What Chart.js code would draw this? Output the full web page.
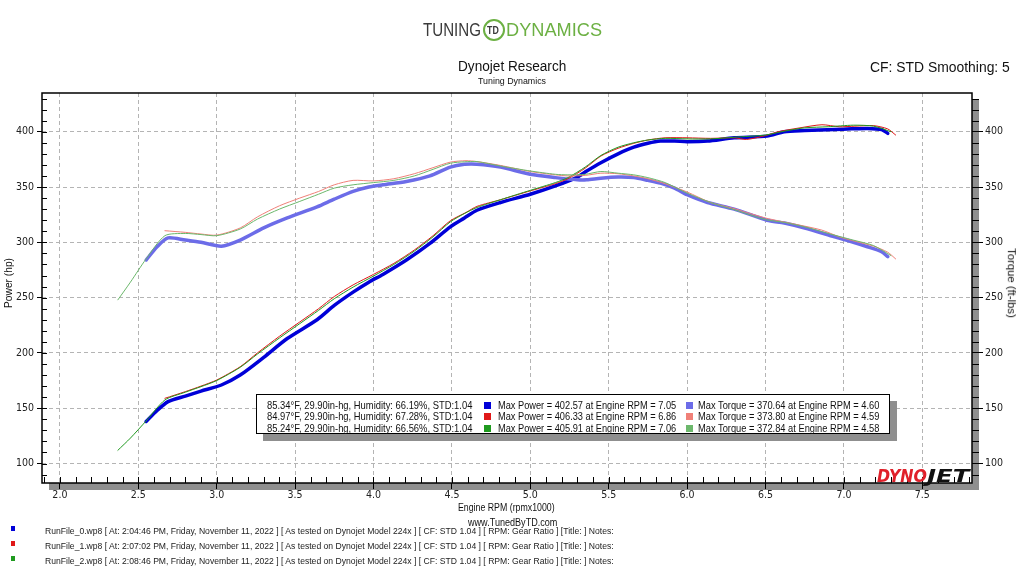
<!DOCTYPE html>
<html>
<head>
<meta charset="utf-8">
<script src="https://cdn.jsdelivr.net/npm/chart.js@4"></script>
<style>
  html, body { margin: 0; padding: 0; background: #fff; }
  #wrap { position: relative; width: 1024px; height: 576px; overflow: hidden; font-family: "Liberation Sans", Arial, sans-serif; }
  #wrap canvas { position: absolute; left: 0; top: 0; }
  .t { position: absolute; white-space: nowrap; line-height: 1; color: #111; z-index: 3; }
  .sq { position: absolute; width: 7px; height: 7px; z-index: 3; }
  #legendBox { position: absolute; left: 256px; top: 394px; width: 634px; height: 40px; box-sizing: border-box;
    border: 1.5px solid #000; background: #fff; box-shadow: 7px 7px 0 #8f8f8f; z-index: 2; }
  #tdRing { position: absolute; left: 483px; top: 19px; width: 18px; height: 18px; border: 2px solid #6cb043;
    border-radius: 50%; z-index: 3; }
</style>
</head>
<body>
<div id="wrap">
  <canvas id="dyno" width="1024" height="576"></canvas>
  <div id="legendBox"></div>
  <div id="tdRing"></div>
</div>
<script>
// run 0 (blue), run 1 (red), run 2 (green) - engine rpm x1000
const run0Rpm    = [2.55, 2.62, 2.69, 2.8, 2.9, 3.03, 3.15, 3.3, 3.45, 3.64, 3.75, 3.87, 3.97, 4.06, 4.21, 4.36, 4.49, 4.58, 4.66, 4.81, 5.0, 5.16, 5.3, 5.36, 5.45, 5.56, 5.66, 5.75, 5.83, 5.92, 6.0, 6.13, 6.3, 6.51, 6.62, 6.75, 6.94, 7.05, 7.15, 7.24, 7.28];
const run0Power  = [138, 148, 156, 161, 165.5, 171, 180, 196, 213, 230, 243, 255, 264, 271, 284, 299, 314, 322, 329, 336, 343.5, 351, 359, 364.5, 372, 380, 386, 389.5, 391.5, 391.5, 391, 391.5, 394.5, 396, 400, 401, 402, 402.6, 403, 402, 398.5];
const run0Torque = [284, 296, 304, 302, 300, 296.5, 302, 313, 322, 332, 339, 346, 350, 352, 355, 360, 368, 370.5, 370.6, 368, 361.5, 358.5, 356.5, 356.5, 358, 359, 358.5, 356, 353.5, 349, 343, 336, 330, 320, 317.5, 313, 305, 300.5, 296, 291.5, 287];

const run1Rpm    = [2.67, 2.8, 2.9, 3.0, 3.15, 3.26, 3.4, 3.53, 3.65, 3.75, 3.87, 4.0, 4.13, 4.26, 4.38, 4.49, 4.59, 4.66, 4.81, 5.0, 5.16, 5.24, 5.35, 5.45, 5.56, 5.66, 5.75, 5.86, 6.0, 6.15, 6.3, 6.38, 6.5, 6.58, 6.72, 6.86, 6.97, 7.07, 7.19, 7.28, 7.33];
const run1Power  = [159, 165, 170, 175.5, 187.5, 200, 215, 228, 240, 251, 261.5, 271, 281, 293, 306, 319.5, 327, 332.5, 338.5, 346.5, 353, 357.5, 367, 378, 385, 389.5, 392.5, 394.5, 394.5, 394, 394.5, 393, 396.5, 400, 403.5, 406.3, 404.5, 405, 405.5, 402.5, 397];
const run1Torque = [310.5, 309, 307.5, 306.5, 313, 323, 333, 340, 346, 352, 356, 355.5, 357.5, 362, 367.5, 372.5, 373.8, 373, 369.5, 364, 361, 360, 360.5, 362.5, 362, 360, 357.5, 353, 345.5, 336, 330.5, 327, 322, 319.5, 315.5, 311, 305, 301, 296.5, 291, 285];

const run2Rpm    = [2.37, 2.45, 2.55, 2.67, 2.8, 2.9, 3.0, 3.15, 3.26, 3.4, 3.53, 3.65, 3.75, 3.87, 4.0, 4.13, 4.26, 4.38, 4.49, 4.58, 4.66, 4.81, 5.0, 5.16, 5.24, 5.35, 5.45, 5.56, 5.66, 5.75, 5.86, 6.0, 6.15, 6.3, 6.5, 6.62, 6.75, 6.9, 7.06, 7.19, 7.3];
const run2Power  = [112, 123, 138.5, 157.5, 164.5, 169.5, 175, 187, 199, 213.5, 226.5, 238.5, 249, 259.5, 269.5, 280, 292, 305, 318.5, 326, 331.5, 338.5, 347, 354, 358.5, 368, 378.5, 386, 390, 392.5, 394, 393.5, 393.5, 395, 397, 400.5, 403.5, 404.5, 405.9, 405, 400];
const run2Torque = [248, 264, 285, 306, 308, 307, 306, 312, 321, 330, 337, 343.5, 349, 352, 354, 356, 360, 366, 371.5, 372.8, 373, 369, 364.5, 361.5, 361, 361.5, 364, 362.5, 361, 358.5, 354, 344.5, 336, 329.5, 320.5, 318, 314, 308, 302, 297, 288];

// legend / footer info
const runConditions = ['85.34°F, 29.90in-hg, Humidity: 66.19%, STD:1.04',
                       '84.97°F, 29.90in-hg, Humidity: 67.28%, STD:1.04',
                       '85.24°F, 29.90in-hg, Humidity: 66.56%, STD:1.04'];
const maxPower     = ['402.57', '406.33', '405.91'];
const maxPowerRpm  = ['7.05', '6.86', '7.06'];
const maxTorque    = ['370.64', '373.80', '372.84'];
const maxTorqueRpm = ['4.60', '4.59', '4.58'];
const runFiles = ['RunFile_0.wp8', 'RunFile_1.wp8', 'RunFile_2.wp8'];
const runTimes = ['2:04:46 PM', '2:07:02 PM', '2:08:46 PM'];

const powerColors  = ['#0000d8', '#e01818', '#1f9a1f'];
const torqueColors = ['#6c6ce8', '#f08078', '#6cb86c'];

const wrap = document.getElementById('wrap');

function addText(str, o) {
  const el = document.createElement('div');
  el.className = 't';
  el.textContent = str;
  el.style.fontSize = o.size + 'px';
  if (o.color) el.style.color = o.color;
  if (o.weight) el.style.fontWeight = o.weight;
  if (o.italic) el.style.fontStyle = 'italic';
  if (o.family) el.style.fontFamily = o.family;
  wrap.appendChild(el);
  const w = el.offsetWidth, h = el.offsetHeight;
  const k = o.w / w;
  if (o.rot) {
    el.style.left = (o.cx - w / 2) + 'px';
    el.style.top = (o.cy - h / 2) + 'px';
    el.style.transformOrigin = '50% 50%';
    el.style.transform = 'rotate(' + o.rot + 'deg) scaleX(' + k + ')';
  } else {
    el.style.left = o.x + 'px';
    el.style.top = (o.cy - h / 2) + 'px';
    el.style.transformOrigin = '0 50%';
    el.style.transform = 'scaleX(' + k + ')';
  }
  return el;
}

function addSquare(x, y, color, size) {
  const s = document.createElement('div');
  s.className = 'sq';
  s.style.left = x + 'px';
  s.style.top = y + 'px';
  s.style.background = color;
  if (size) { s.style.width = size[0] + 'px'; s.style.height = size[1] + 'px'; }
  wrap.appendChild(s);
}

// header
addText('TUNING', { x: 423, cy: 30, w: 58, size: 18, color: '#3a3a3a' });
addText('TD', { x: 487, cy: 30, w: 12, size: 11, color: '#3a3a3a', weight: 'bold' });
addText('DYNAMICS', { x: 506, cy: 30, w: 96, size: 18, color: '#6cb043' });
addText('Dynojet Research', { x: 458, cy: 66, w: 108, size: 14 });
addText('Tuning Dynamics', { x: 478, cy: 81, w: 68, size: 9.5 });
addText('CF: STD Smoothing: 5', { x: 870, cy: 67, w: 140, size: 14 });

// axis titles
addText('Power (hp)', { cx: 9, cy: 283, w: 50, size: 10, rot: -90 });
addText('Torque (ft-lbs)', { cx: 1011, cy: 283, w: 70, size: 10, rot: 90 });
addText('Engine RPM (rpmx1000)', { x: 458, cy: 507.5, w: 97, size: 10.5 });
addText('www.TunedByTD.com', { x: 468, cy: 522.5, w: 89, size: 10.5 });

// legend box rows
const rowY = [405, 416.7, 428.3];
for (let i = 0; i < 3; i++) {
  addText(runConditions[i], { x: 267, cy: rowY[i], w: 205, size: 11 });
  addSquare(484, rowY[i] - 3.5, powerColors[i]);
  addText('Max Power = ' + maxPower[i] + ' at Engine RPM = ' + maxPowerRpm[i], { x: 498, cy: rowY[i], w: 178, size: 11 });
  addSquare(686, rowY[i] - 3.5, torqueColors[i]);
  addText('Max Torque = ' + maxTorque[i] + ' at Engine RPM = ' + maxTorqueRpm[i], { x: 698, cy: rowY[i], w: 181, size: 11 });
}

// footer run lines
const footY = [531, 546.3, 561];
for (let i = 0; i < 3; i++) {
  addSquare(11, footY[i] - 5, powerColors[i], [4, 5]);
  addText(runFiles[i] + ' [ At: ' + runTimes[i] + ', Friday, November 11, 2022 ] [ As tested on Dynojet Model 224x ] [ CF: STD 1.04 ] [ RPM: Gear Ratio ] [Title: ]  Notes:',
    { x: 45, cy: footY[i], w: 569, size: 9, color: '#222' });
}

// dynojet mark
addText('DYNO', { x: 877, cy: 476, w: 50, size: 18, color: '#e0202a', weight: 'bold', italic: true, family: '"DejaVu Sans", sans-serif' });
addText('JET', { x: 927, cy: 476, w: 42, size: 18, color: '#111', weight: 'bold', italic: true, family: '"DejaVu Sans", sans-serif' });

function pts(xs, ys) {
  return xs.map((x, i) => ({ x: x, y: ys[i] }));
}

function series(label, xs, ys, color, width, axis) {
  return {
    label: label,
    data: pts(xs, ys),
    borderColor: color,
    borderWidth: width,
    yAxisID: axis,
    pointRadius: 0,
    fill: false
  };
}

// thin lines first so the thick run 0 lines sit on top
const datasets = [
  series('Run 2 Torque', run2Rpm, run2Torque, torqueColors[2], 1, 'y1'),
  series('Run 1 Torque', run1Rpm, run1Torque, torqueColors[1], 1, 'y1'),
  series('Run 2 Power', run2Rpm, run2Power, powerColors[2], 1, 'y'),
  series('Run 1 Power', run1Rpm, run1Power, powerColors[1], 1, 'y'),
  series('Run 0 Torque', run0Rpm, run0Torque, torqueColors[0], 3.5, 'y1'),
  series('Run 0 Power', run0Rpm, run0Power, powerColors[0], 3.5, 'y')
];

const isMajor = (ctx) => ctx.tick && Math.abs(ctx.tick.value % 50) < 1e-6;

const dynoFrame = {
  id: 'dynoFrame',
  beforeDraw(chart) {
    const { ctx, chartArea: a } = chart;
    ctx.save();
    ctx.fillStyle = '#8f8f8f';
    ctx.fillRect(a.left + 7, a.top + 7, a.right - a.left, a.bottom - a.top);
    ctx.fillStyle = '#fff';
    ctx.fillRect(a.left, a.top, a.right - a.left, a.bottom - a.top);
    ctx.restore();
  },
  afterDraw(chart) {
    const { ctx, chartArea: a, scales } = chart;
    ctx.save();
    ctx.strokeStyle = '#000';
    ctx.lineWidth = 1;
    ctx.beginPath();
    const ys = scales.y;
    for (let v = Math.ceil(ys.min / 10) * 10; v <= ys.max; v += 10) {
      const py = Math.round(ys.getPixelForValue(v)) + 0.5;
      ctx.moveTo(a.left, py); ctx.lineTo(a.left + 5, py);
      if (v % 50 !== 0) { ctx.moveTo(a.right, py); ctx.lineTo(a.right + 7, py); }
    }
    const xs = scales.x;
    for (let i = Math.ceil(xs.min * 10); i <= xs.max * 10; i++) {
      const px = Math.round(xs.getPixelForValue(i / 10)) + 0.5;
      ctx.moveTo(px, a.bottom); ctx.lineTo(px, a.bottom - 6);
    }
    ctx.stroke();
    ctx.lineWidth = 1.5;
    ctx.strokeRect(a.left, a.top, a.right - a.left, a.bottom - a.top);
    ctx.restore();
  }
};

Chart.defaults.font.family = '"Liberation Sans Narrow", "DejaVu Sans Condensed", "Liberation Sans", sans-serif';
Chart.defaults.color = '#222';

new Chart(document.getElementById('dyno'), {
  type: 'line',
  data: { datasets: datasets },
  options: {
    responsive: false,
    animation: false,
    devicePixelRatio: 1,
    layout: { padding: { top: 93, left: 0, right: 0, bottom: 0 } },
    plugins: { legend: { display: false }, tooltip: { enabled: false } },
    elements: { line: { tension: 0.25, borderCapStyle: 'round', borderJoinStyle: 'round' } },
    scales: {
      x: {
        type: 'linear',
        min: 1.886,
        max: 7.817,
        afterFit: (s) => { s.height = 93; },
        border: { display: false, dash: [4, 3] },
        grid: { color: '#b4b4b4', lineWidth: 1, tickLength: 6, tickColor: '#000', tickBorderDash: [] },
        ticks: { stepSize: 0.5, includeBounds: false, autoSkip: false, maxRotation: 0, padding: 0,
                 font: { size: 10.5 }, callback: (v) => Number(v).toFixed(1) }
      },
      y: {
        position: 'left',
        min: 82.4,
        max: 435,
        afterFit: (s) => { s.width = 42; },
        border: { display: false, dash: [4, 3] },
        grid: { color: (c) => isMajor(c) ? '#b4b4b4' : 'rgba(0,0,0,0)', tickLength: 5,
                tickColor: (c) => isMajor(c) ? '#000' : 'rgba(0,0,0,0)', tickBorderDash: [] },
        ticks: { stepSize: 10, includeBounds: false, autoSkip: false, padding: 3, font: { size: 10.5 },
                 callback: (v) => v % 50 === 0 ? String(v) : '' }
      },
      y1: {
        position: 'right',
        min: 82.4,
        max: 435,
        afterFit: (s) => { s.width = 52; },
        border: { display: false },
        grid: { drawOnChartArea: false, tickLength: 11,
                tickColor: (c) => isMajor(c) ? '#000' : 'rgba(0,0,0,0)' },
        ticks: { stepSize: 10, includeBounds: false, autoSkip: false, padding: 2, font: { size: 10.5 },
                 callback: (v) => v % 50 === 0 ? String(v) : '' }
      }
    }
  },
  plugins: [dynoFrame]
});
</script>
</body>
</html>
